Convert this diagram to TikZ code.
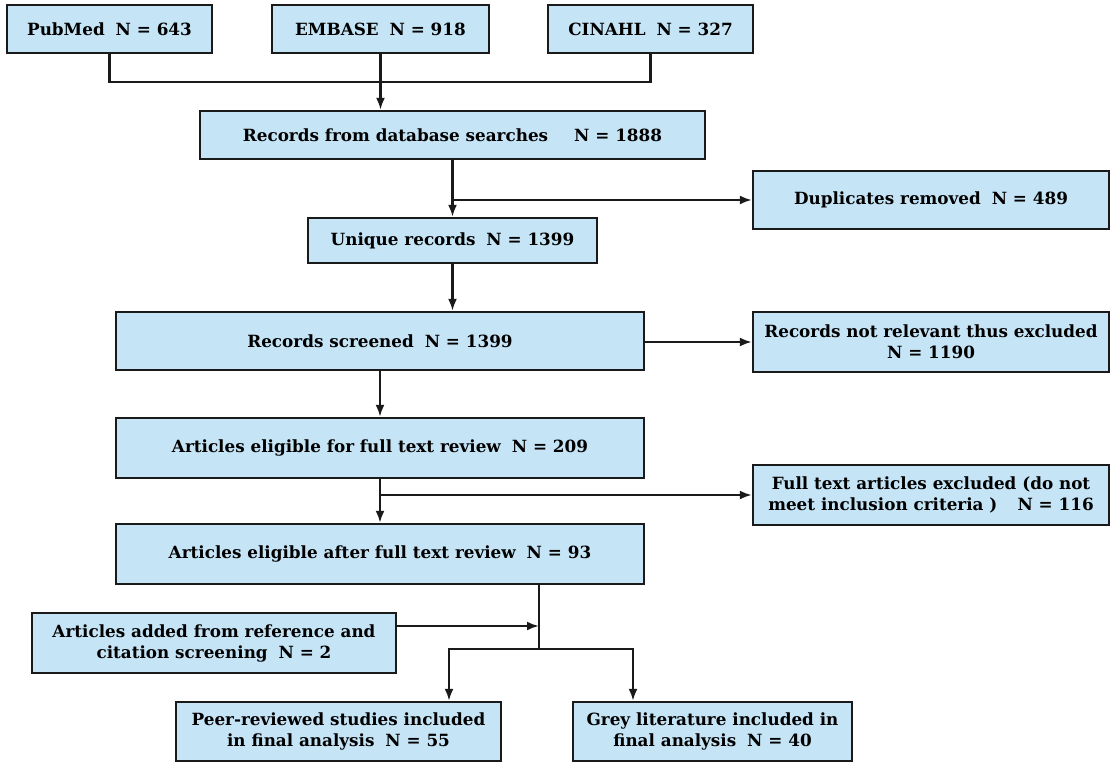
\documentclass[tikz,border=0pt]{standalone}
\usepackage{fontspec}
\setmainfont{DejaVu Serif}
\usepackage{tikz}
\usetikzlibrary{arrows.meta,positioning}
\usepackage{xcolor}
\definecolor{cBox}{RGB}{197,228,246}
\definecolor{cLine}{RGB}{26,26,26}

\begin{document}
\begin{tikzpicture}[x=1pt, y=-1pt,
  font=\fontsize{16.8}{21}\selectfont\bfseries,
  box/.style={draw=cLine, fill=cBox, line width=2.4pt, align=center, inner sep=0pt},
  arr/.style={-{Latex[length=12pt,width=9pt]}, line width=2.2pt, cLine},
  lnk/.style={line width=2.2pt, cLine}]
\useasboundingbox (0,0) rectangle (1111,762);
% databases, 1 px = 1 pt
\node[box, minimum width=205pt, minimum height=48pt] (pubmed) at (109.5,29) {PubMed\hspace{0.3em} N = 643};
\node[box, minimum width=217pt, minimum height=48pt] (embase) at (380.5,29) {EMBASE\hspace{0.3em} N = 918};
\node[box, minimum width=205pt, minimum height=48pt] (cinahl) at (650.5,29) {CINAHL\hspace{0.3em} N = 327};
\node[box, minimum width=505pt, minimum height=48pt] (records) at (452.5,135) {Records from database searches\hspace{1.2em} N = 1888};
\node[box, minimum width=356pt, minimum height=58pt] (dups) at (931,200) {Duplicates removed\hspace{0.3em} N = 489};
\node[box, minimum width=289pt, minimum height=45pt] (unique) at (452.5,240.5) {Unique records\hspace{0.3em} N = 1399};
% screening
\node[box, minimum width=528pt, minimum height=58pt] (screened) at (380,341) {Records screened\hspace{0.3em} N = 1399};
\node[box, minimum width=356pt, minimum height=60pt] (notrel) at (931,342) {Records not relevant thus excluded\\N = 1190};
\node[box, minimum width=528pt, minimum height=60pt] (eligible) at (380,448) {Articles eligible for full text review\hspace{0.3em} N = 209};
\node[box, minimum width=356pt, minimum height=60pt] (ftexcl) at (931,495) {Full text articles excluded (do not\\meet inclusion criteria )\hspace{0.85em} N = 116};
\node[box, minimum width=528pt, minimum height=60pt] (after) at (380,554) {Articles eligible after full text review\hspace{0.3em} N = 93};
% included
\node[box, minimum width=364pt, minimum height=60pt] (added) at (214,643) {Articles added from reference and\\citation screening\hspace{0.3em} N = 2};
\node[box, minimum width=325pt, minimum height=59pt] (peer) at (338.5,731.5) {Peer-reviewed studies included\\in final analysis\hspace{0.3em} N = 55};
\node[box, minimum width=279pt, minimum height=59pt] (grey) at (712.5,731.5) {Grey literature included in\\final analysis\hspace{0.3em} N = 40};
\coordinate (join) at (380.5,82);
\coordinate (merge) at (539,626);
\coordinate (split) at (539,649);
% connectors
\draw[lnk] (pubmed.south) |- (join) -| (cinahl.south);
\draw[arr] (embase.south) -- (embase.south |- records.north);
\draw[arr] (records.south) -- (unique.north);
\draw[arr] (records.south |- dups.west) -- (dups.west);
\draw[arr] (unique.south) -- (unique.south |- screened.north);
\draw[arr] (screened.east |- notrel.west) -- (notrel.west);
\draw[arr] (screened.south) -- (eligible.north);
\draw[arr] (eligible.south) -- (after.north);
\draw[arr] (eligible.south |- ftexcl.west) -- (ftexcl.west);
\draw[lnk] (after.south -| split) -- (split);
\draw[arr] (added.east |- merge) -- (merge);
\draw[arr] (split) -| ([xshift=110.5pt]peer.north);
\draw[arr] (split) -| ([xshift=-79.5pt]grey.north);
\end{tikzpicture}
\end{document}
